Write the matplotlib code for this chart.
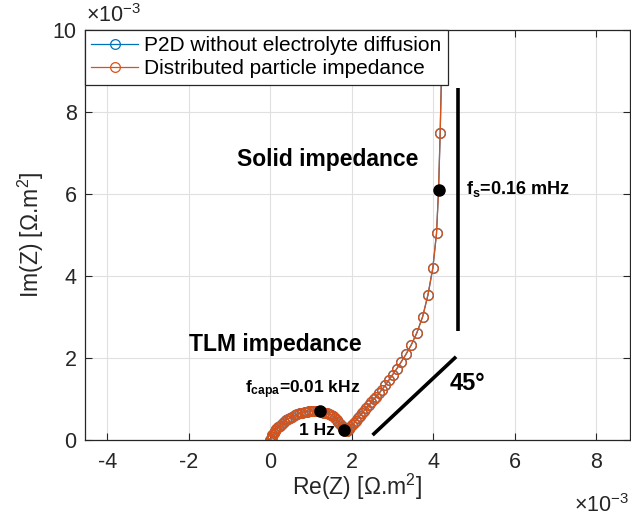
import numpy as np
import matplotlib
matplotlib.use("Agg")
import matplotlib.pyplot as plt

plt.rcParams['font.family'] = ['Liberation Sans', 'DejaVu Sans']
plt.rcParams['mathtext.fontset'] = 'custom'
plt.rcParams['mathtext.rm'] = 'Liberation Sans'
plt.rcParams['mathtext.it'] = 'Liberation Sans:italic'
plt.rcParams['mathtext.bf'] = 'Liberation Sans:bold'

# donnees en unites de 1e-3 Ohm.m2
re_z = [0.00, 0.01, 0.03, 0.05, 0.08, 0.11, 0.15, 0.19, 0.23, 0.28, 0.33, 0.38, 0.43, 0.48,
        0.54, 0.60, 0.66, 0.72, 0.78, 0.84, 0.90, 0.96, 1.02, 1.08, 1.14, 1.20, 1.26, 1.32,
        1.38, 1.44, 1.49, 1.54, 1.59, 1.63, 1.67, 1.71, 1.75, 1.78, 1.81, 1.84,
        1.88, 1.92, 1.96, 2.00, 2.05, 2.10, 2.15, 2.20, 2.25, 2.30, 2.36, 2.42, 2.48, 2.54,
        2.60, 2.67, 2.74, 2.82, 2.91, 3.00, 3.10, 3.21, 3.33, 3.46, 3.60, 3.74, 3.87, 3.99,
        4.08, 4.13, 4.17, 4.21, 4.26]
im_z = [0.00, 0.03, 0.07, 0.11, 0.16, 0.21, 0.26, 0.31, 0.35, 0.40, 0.44, 0.48, 0.51, 0.54,
        0.57, 0.60, 0.63, 0.65, 0.67, 0.68, 0.69, 0.70, 0.71, 0.71, 0.71, 0.70, 0.69, 0.67,
        0.66, 0.64, 0.61, 0.58, 0.54, 0.50, 0.45, 0.40, 0.34, 0.29, 0.25, 0.22,
        0.22, 0.26, 0.31, 0.36, 0.41, 0.47, 0.53, 0.59, 0.65, 0.71, 0.78, 0.85, 0.92, 0.99,
        1.06, 1.14, 1.23, 1.33, 1.46, 1.59, 1.73, 1.90, 2.09, 2.32, 2.62, 3.01, 3.54, 4.20,
        5.04, 6.10, 7.50, 9.30, 11.70]

# points caracteristiques (f_capa, 1 Hz, f_s)
pts_re = [1.21, 1.82, 4.13]
pts_im = [0.70, 0.24, 6.10]

# droites de guidage
vert_re = [4.60, 4.60]
vert_im = [8.59, 2.66]
diag_re = [2.51, 4.56]
diag_im = [0.12, 2.03]

xticks = [-4, -2, 0, 2, 4, 6, 8]
yticks = [0, 2, 4, 6, 8, 10]

azul = '#0072BD'
naranja = '#D95319'
gris = '#262626'

fig = plt.figure(figsize=(6.31, 5.19), dpi=100)
ax = fig.add_axes([85/631, 79/519, 545/631, 410/519])

ax.plot(re_z, im_z, '-o', color=azul, mfc='none', ms=7, lw=0.9, mew=0.9,
        label='P2D without electrolyte diffusion')
ax.plot(re_z, im_z, '-o', color=naranja, mfc='none', ms=7, lw=0.9, mew=0.9,
        label='Distributed particle impedance')
ax.plot(pts_re, pts_im, 'o', color='black', ms=8, zorder=4)
ax.plot(vert_re, vert_im, color='black', lw=2.6, solid_capstyle='butt')
ax.plot(diag_re, diag_im, color='black', lw=2.6, solid_capstyle='butt')

ax.text(0.12, 2.32, 'TLM impedance', fontsize=16.5, fontweight='bold', ha='center', va='center')
ax.text(1.42, 6.85, 'Solid impedance', fontsize=16.5, fontweight='bold', ha='center', va='center')
ax.text(4.39, 1.39, '45°', fontsize=17, fontweight='bold', ha='left', va='center')
ax.text(-0.61, 1.22, r'f$_{\mathbf{capa}}$=0.01 kHz', fontsize=12.5, fontweight='bold',
        ha='left', va='center')
ax.text(0.7, 0.24, '1 Hz', fontsize=12.5, fontweight='bold', ha='left', va='center')
ax.text(4.81, 6.12, r'f$_{\mathbf{s}}$=0.16 mHz', fontsize=13, fontweight='bold',
        ha='left', va='center')

ax.set_xlim(-4.55, 8.83)
ax.set_ylim(0, 10)
ax.set_xticks(xticks)
ax.set_yticks(yticks)
ax.set_xticklabels([str(t) for t in xticks])
ax.set_yticklabels([str(t) for t in yticks])
ax.grid(True, color='#e0e0e0', lw=0.8)
ax.set_axisbelow(True)
ax.tick_params(direction='in', top=True, right=True, length=5, width=0.8,
               colors=gris, labelsize=15.5)
ax.tick_params(axis='x', pad=9)
ax.tick_params(axis='y', pad=6)
for s in ax.spines.values():
    s.set_color(gris)
    s.set_linewidth(0.9)

ax.set_xlabel(r'Re(Z) [$\Omega$.m$^2$]', fontsize=16.5, color=gris)
ax.set_ylabel(r'Im(Z) [$\Omega$.m$^2$]', fontsize=16.5, color=gris)
ax.xaxis.set_label_coords(0.5, -0.078)
ax.yaxis.set_label_coords(-0.072, 0.5)

fig.text(86/631, 1 - 16/519, r'$\times$10$^{-3}$', fontsize=15.5, color=gris, ha='left', va='center')
fig.text(629/631, 1 - 506/519, r'$\times$10$^{-3}$', fontsize=15.5, color=gris, ha='right', va='center')

leg = ax.legend(loc='upper left', fontsize=15, fancybox=False, framealpha=1,
                edgecolor=gris, borderaxespad=0, handlelength=2.25, borderpad=0.3,
                labelspacing=0.2, handletextpad=0.3)
leg.get_frame().set_linewidth(0.9)

fig.savefig('out.png', dpi=100)
